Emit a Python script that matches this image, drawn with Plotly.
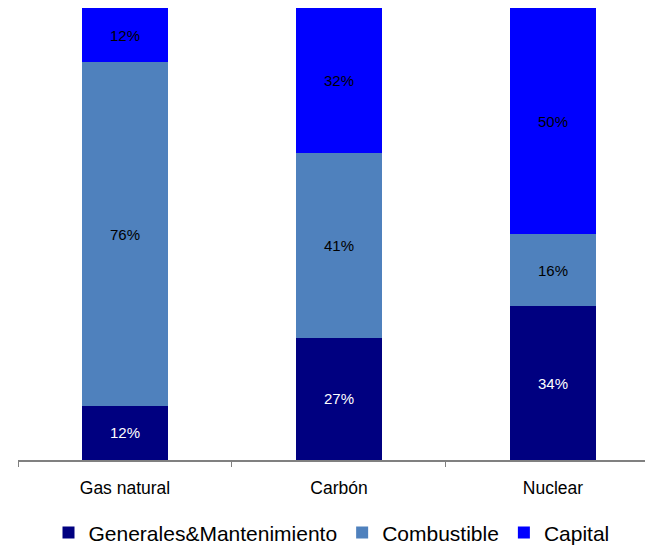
import plotly.graph_objects as go

categories = ["Gas natural", "Carbón", "Nuclear"]
generales = [12, 27, 34]
combustible = [76, 41, 16]
capital = [12, 32, 50]

series = [
    ("Generales&Mantenimiento", generales, "#000080", "white"),
    ("Combustible", combustible, "#4F81BD", "black"),
    ("Capital", capital, "#0000FF", "black"),
]

font_family = "Liberation Sans, Arial, sans-serif"

fig = go.Figure()
for name, vals, color, txtcolor in series:
    fig.add_trace(go.Bar(
        name=name,
        x=categories,
        y=vals,
        marker=dict(color=color, line=dict(width=0)),
        width=0.4,
        text=[f"{v}%" for v in vals],
        textposition="inside",
        insidetextanchor="middle",
        textangle=0,
        textfont=dict(family=font_family, size=15, color=txtcolor),
        hoverinfo="skip",
    ))

fig.update_layout(
    barmode="stack",
    width=645,
    height=545,
    margin=dict(l=18, r=0, t=8, b=85, autoexpand=False),
    paper_bgcolor="white",
    plot_bgcolor="white",
    font=dict(family=font_family, color="black"),
    showlegend=True,
    legend=dict(
        orientation="h",
        x=0.5, xanchor="center",
        y=-0.161, yanchor="middle",
        font=dict(size=21, family=font_family),
        traceorder="normal",
        itemsizing="constant",
        tracegroupgap=0,
    ),
    xaxis=dict(
        type="category",
        range=[-0.5, 2.43],
        showline=True,
        linecolor="#808080",
        linewidth=2,
        ticks="outside",
        tickson="boundaries",
        ticklen=5,
        tickcolor="#808080",
        tickwidth=1,
        showgrid=False,
        tickangle=0,
        ticklabelstandoff=11,
        tickfont=dict(size=17.5, family=font_family, color="black"),
        fixedrange=True,
    ),
    yaxis=dict(
        range=[0, 100],
        visible=False,
        showgrid=False,
        fixedrange=True,
    ),
)

fig.write_html("out.html")
